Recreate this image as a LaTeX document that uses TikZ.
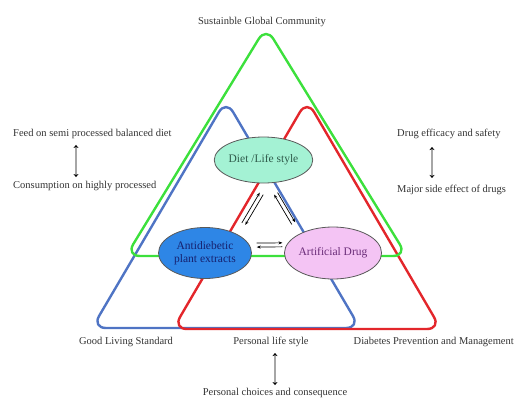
\documentclass[tikz,border=0pt]{standalone}
\usepackage{fontspec}
\setmainfont{Liberation Serif}
\usetikzlibrary{arrows.meta,shapes.geometric,calc}
\definecolor{lgreen}{HTML}{3CE03C}
\definecolor{lblue}{HTML}{4F74C4}
\definecolor{lred}{HTML}{E3262B}
\definecolor{dietfill}{HTML}{A4F2D4}
\definecolor{plantfill}{HTML}{2E86E6}
\definecolor{drugfill}{HTML}{F4C4F4}
\definecolor{dietink}{HTML}{2E5A4A}
\definecolor{plantink}{HTML}{16206E}
\definecolor{drugink}{HTML}{6A2C78}

\tikzset{
  tri/.style={line width=2.4pt, rounded corners=14pt, line join=round},
  oval/.style={ellipse, draw=gray!70!black, line width=0.8pt, minimum width=93pt,
    align=center, font=\fontsize{11.5}{13}\selectfont, inner sep=0pt},
  lbl/.style={font=\fontsize{10.5}{12}\selectfont, text=black!80, inner sep=1pt},
  trade/.style={-{Stealth[length=4pt,width=3pt]}, line width=0.7pt},
  updown/.style={draw=gray!70, line width=1.4pt,
    {Stealth[black,length=3pt,width=5pt]}-{Stealth[black,length=3pt,width=5pt]}}
}

\begin{document}
\begin{tikzpicture}[x=1pt, y=-1pt]
\useasboundingbox (0,0) rectangle (516,399);
\draw[tri, lblue] (92,328) -- (226,100) -- (360,328) -- cycle;
\draw[tri, lred] (173,329) -- (307,100) -- (441,329) -- cycle;
\draw[tri, lgreen] (126,256) -- (266,27) -- (407,256) -- cycle;

\node[oval, fill=dietfill, text=dietink, minimum height=46pt] (diet) at (263.5,160) {Diet /Life style};
\node[oval, fill=plantfill, text=plantink, minimum height=51pt] (plant) at (205,253) {Antidiebetic\\plant extracts};
\node[oval, fill=drugfill, text=drugink, minimum height=52pt] (drug) at (333,253) {Artificial Drug};

\draw[trade, shorten <=12pt, shorten >=12pt] ($(diet.-80)!2pt!90:(plant.30)$) -- ($(plant.30)!2pt!-90:(diet.-80)$);
\draw[trade, shorten <=12pt, shorten >=12pt] ($(plant.30)!2pt!90:(diet.-80)$) -- ($(diet.-80)!2pt!-90:(plant.30)$);
\draw[trade, shorten <=12pt, shorten >=12pt] ($(diet.-75)!2pt!90:(drug.150)$) -- ($(drug.150)!2pt!-90:(diet.-75)$);
\draw[trade, shorten <=12pt, shorten >=12pt] ($(drug.150)!2pt!90:(diet.-75)$) -- ($(diet.-75)!2pt!-90:(drug.150)$);
\draw[trade, shorten <=7pt, shorten >=4pt] ([yshift=2pt]plant.10) -- ([yshift=2pt]drug.170);
\draw[trade, shorten <=4pt, shorten >=7pt] ([yshift=-2pt]drug.170) -- ([yshift=-2pt]plant.10);

\node[lbl] (top) at (262,22) {Sustainble Global Community};
\node[lbl, anchor=west] (feed) at (12,134) {Feed on semi processed balanced diet};
\node[lbl, anchor=west] (junk) at (12,186) {Consumption on highly processed};
\node[lbl, anchor=west] (efficacy) at (396,134) {Drug efficacy and safety};
\node[lbl, anchor=west] (sidefx) at (396,190) {Major side effect of drugs};
\node[lbl] (living) at (126,342) {Good Living Standard};
\node[lbl] (life) at (271,342) {Personal life style};
\node[lbl, anchor=east] (prevent) at (515,342) {Diabetes Prevention and Management};
\node[lbl] (choices) at (275,393) {Personal choices and consequence};

\draw[updown, shorten <=5pt, shorten >=3pt] ([xshift=64pt]feed.south west) -- ([xshift=64pt]feed.south west |- junk.north);
\draw[updown, shorten <=7pt, shorten >=6pt] ([xshift=36pt]efficacy.south west) -- ([xshift=36pt]efficacy.south west |- sidefx.north);
\draw[updown, shorten <=5pt, shorten >=2pt] (life.south -| choices.north) -- (choices.north);
\end{tikzpicture}
\end{document}
